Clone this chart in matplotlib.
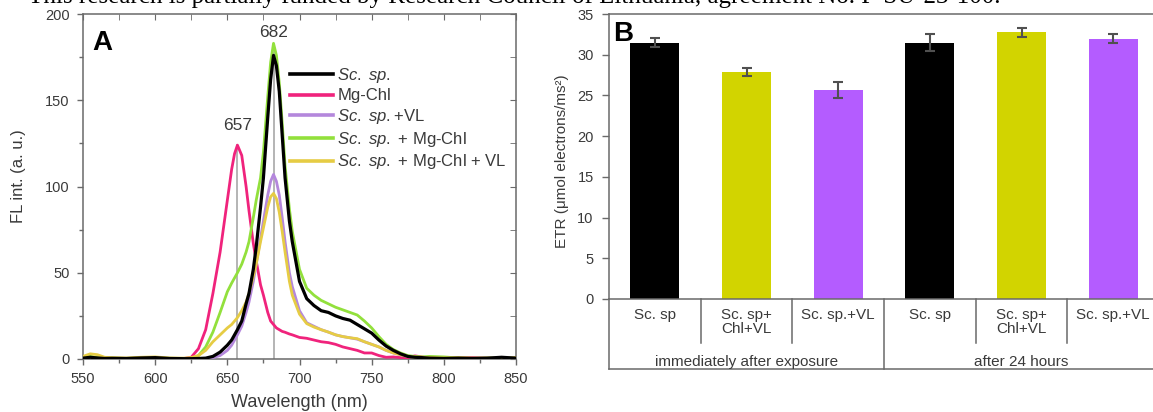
import matplotlib
matplotlib.use("Agg")
import matplotlib.pyplot as plt
from matplotlib.lines import Line2D

plt.rcParams['font.family'] = ['Liberation Sans', 'DejaVu Sans']
plt.rcParams['mathtext.fontset'] = 'custom'
plt.rcParams['mathtext.it'] = 'Liberation Sans:italic'
plt.rcParams['mathtext.rm'] = 'Liberation Sans'

# ---------------- Panel A data ----------------
wavelength = [550, 555, 560, 565, 570, 580, 590, 600, 610, 620,
              625, 630, 635, 640, 645, 650, 653, 655, 657, 660,
              663, 665, 668, 670, 673, 675, 678, 680, 682, 684,
              686, 688, 690, 693, 695, 700, 705, 710, 715, 720,
              725, 730, 735, 740, 745, 750, 755, 760, 765, 770,
              775, 780, 785, 790, 800, 810, 820, 830, 840, 850]

fl_sc = [0.5, 1.0, 0.6, 0.3, 0.4, 0.3, 0.6, 0.8, 0.3, 0.2,
         0.2, 0.3, 0.5, 1.5, 4, 8, 11, 14, 17, 22,
         32, 38, 52, 65, 88, 105, 140, 162, 176, 170,
         155, 130, 105, 80, 68, 45, 35, 31, 28, 27,
         25, 23.5, 22.5, 20, 17.5, 15, 11, 7.5, 5, 3,
         1.5, 1.0, 0.8, 0.5, 0.3, 0.5, 0.3, 0.5, 1.0, 0.5]

fl_mgchl = [0.3, 0.8, 0.5, 0.2, 0.3, 0.2, 0.4, 0.5, 0.2, 0.3,
            1, 6, 17, 38, 62, 92, 110, 119, 124, 118,
            100, 86, 67, 57, 43, 37, 27, 22, 20, 18,
            17, 16, 15.5, 14.5, 14, 12.5, 12, 11, 10, 9.5,
            8.5, 7, 6, 5, 3.5, 3.5, 2, 1, 1.2, 0.8,
            0.8, 1.8, 1.2, 0.5, 0.4, 0.6, 0.9, 0.4, 0.3, 0.4]

fl_sc_vl = [0.4, 0.6, 0.3, 0.2, 0.3, 0.2, 0.3, 0.4, 0.2, 0.2,
            0.2, 0.2, 0.3, 0.8, 2, 5, 8, 11, 14, 19,
            27, 33, 45, 55, 70, 80, 95, 103, 107, 103,
            95, 82, 68, 50, 42, 28, 21, 19, 17, 15.6,
            14, 13, 12.3, 11.5, 10, 8.5, 7, 5, 3.5, 2.5,
            1.5, 1.5, 0.8, 0.6, 0.5, 0.4, 0.5, 0.6, 0.3, 0.5]

fl_sc_mgchl = [0.5, 1.5, 0.8, 0.4, 0.5, 0.3, 0.6, 0.5, 0.4, 0.3,
               0.5, 2, 7, 15.6, 27, 39, 44, 47, 50, 55,
               62, 68, 82, 92, 105, 120, 152, 172, 183, 176,
               160, 137, 112, 87, 74, 52, 41, 37, 34, 32,
               30, 28.5, 27, 25.5, 22, 18, 13, 8.5, 5.5, 3.5,
               2, 1.5, 1.2, 1.5, 1.2, 0.6, 0.4, 0.5, 0.4, 0.5]

fl_sc_mgchl_vl = [1.5, 3, 2.5, 1, 0.8, 0.6, 1, 1.2, 0.6, 0.5,
                  0.8, 2, 5, 10, 14, 18, 20, 22, 24, 28,
                  33, 38, 48, 55, 68, 76, 88, 94, 96, 93,
                  85, 74, 62, 45, 37, 26, 20.5, 18.5, 17, 15.6,
                  14, 13, 12.3, 11.8, 10, 8.5, 7, 5, 3.5, 2.5,
                  1.5, 1.2, 1.0, 0.8, 0.6, 0.8, 0.5, 0.6, 0.4, 0.8]

peak_positions = [657, 682]
peak_heights = [124, 178]
peak_labels = ["657", "682"]

legend_labels = [r"$\mathit{Sc.\ sp.}$", "Mg-Chl", r"$\mathit{Sc.\ sp.}$+VL",
                 r"$\mathit{Sc.\ sp.}$ + Mg-Chl", r"$\mathit{Sc.\ sp.}$ + Mg-Chl + VL"]

# ---------------- Panel B data ----------------
bar_labels = ["Sc. sp", "Sc. sp+\nChl+VL", "Sc. sp.+VL", "Sc. sp", "Sc. sp+\nChl+VL", "Sc. sp.+VL"]
etr_values = [31.5, 27.9, 25.7, 31.5, 32.75, 31.95]
etr_errors = [0.6, 0.5, 1.0, 1.0, 0.55, 0.55]
group_labels = ["immediately after exposure", "after 24 hours"]

caption = "This research is partially funded by Research Council of Lithuania, agreement No. P-SU-23-100."

TXT = '#3a3a3a'
SP = '#6a6a6a'

W, H = 1153, 412
fig = plt.figure(figsize=(W / 100, H / 100), dpi=100)

def ax_rect(x0, y0, x1, y1):
    return [x0 / W, 1 - y1 / H, (x1 - x0) / W, (y1 - y0) / H]

# ---------------- Panel A ----------------
axA = fig.add_axes(ax_rect(83, 14, 516, 359))
series = [(fl_sc, '#000000', 2.3, 6),
          (fl_mgchl, '#f0237c', 2.0, 3),
          (fl_sc_vl, '#b487dc', 2.0, 4),
          (fl_sc_mgchl, '#92e03c', 2.0, 5),
          (fl_sc_mgchl_vl, '#e6cc44', 2.0, 5.5)]
handles = []
for (vals, col, lw, z), lab in zip(series, legend_labels):
    axA.plot(wavelength, vals, color=col, lw=lw, zorder=z)
    handles.append(Line2D([], [], color=col, lw=2.6, label=lab))

for xp, hp, lab in zip(peak_positions, peak_heights, peak_labels):
    axA.plot([xp, xp], [0, hp], color='#a8a8a8', lw=1.2, zorder=2)
    axA.text(xp, hp + 7, lab, ha='center', va='bottom', fontsize=12.5, color=TXT)

axA.set_xlim(550, 850)
axA.set_ylim(0, 200)
axA.set_xticks(range(550, 851, 50))
axA.set_yticks(range(0, 201, 50))
axA.set_xticks(range(575, 850, 50), minor=True)
axA.set_yticks(range(25, 200, 50), minor=True)
axA.tick_params(axis='both', which='major', direction='out', length=4.5, width=1,
                color=SP, labelsize=10.5, labelcolor=TXT, pad=5)
axA.tick_params(axis='both', which='minor', direction='out', length=3, width=1, color=SP)
for s in axA.spines.values():
    s.set_color(SP)
    s.set_linewidth(1.1)
# mirrored inward ticks on top / right
axT = axA.secondary_xaxis('top')
axT.set_xticks(range(550, 851, 50))
axT.set_xticks(range(575, 850, 50), minor=True)
axT.tick_params(which='both', direction='in', length=4, color=SP, labeltop=False)
axT.spines['top'].set_visible(False)
axR = axA.secondary_yaxis('right')
axR.set_yticks(range(0, 201, 50))
axR.set_yticks(range(25, 200, 50), minor=True)
axR.tick_params(which='both', direction='in', length=4, color=SP, labelright=False)
axR.spines['right'].set_visible(False)

axA.set_xlabel("Wavelength (nm)", fontsize=13, color=TXT)
axA.xaxis.set_label_coords(0.5, -0.125)
axA.xaxis.label.set_va('center')
axA.set_ylabel("FL int. (a. u.)", fontsize=12, color=TXT)
axA.yaxis.set_label_coords(-0.149, 0.53)
axA.yaxis.label.set_va('center')
axA.text(0.022, 0.955, "A", transform=axA.transAxes, fontsize=20, fontweight='bold',
         va='top', ha='left', color='#000000')

leg = axA.legend(handles=handles, loc='upper left', bbox_to_anchor=(0.478, 0.85),
                 frameon=False, fontsize=12, handlelength=2.6, handletextpad=0.25,
                 labelspacing=0.22, borderpad=0, borderaxespad=0)
for t in leg.get_texts():
    t.set_color(TXT)

# ---------------- Panel B ----------------
axB = fig.add_axes(ax_rect(609, 14, 1159, 299))
xpos = list(range(len(etr_values)))
bar_colors = ['#000000', '#d2d400', '#b45cff', '#000000', '#d2d400', '#b45cff']
axB.bar(xpos, etr_values, width=0.535, color=bar_colors, zorder=2)
axB.errorbar(xpos, etr_values, yerr=etr_errors, fmt='none', ecolor='#505050',
             elinewidth=1.5, capsize=3.5, capthick=1.5, zorder=3)
axB.set_xlim(-0.5, 5.5)
axB.set_ylim(0, 35)
axB.set_yticks(range(0, 36, 5))
axB.set_xticks([])
axB.tick_params(axis='y', direction='out', length=5, width=1, color=SP,
                labelsize=10.5, labelcolor=TXT, pad=6)
for s in axB.spines.values():
    s.set_color(SP)
    s.set_linewidth(1.1)
axB.spines['right'].set_visible(False)

trB = axB.get_xaxis_transform()
box_bottom = -70 / 285
sub_bottom = -44 / 285
axB.plot([-0.5, -0.5], [0, box_bottom], transform=trB, color=SP, lw=1.1, clip_on=False)
axB.plot([-0.5, 5.6], [box_bottom, box_bottom], transform=trB, color=SP, lw=1.1, clip_on=False)
for xd in [0.5, 1.5, 3.5, 4.5]:
    axB.plot([xd, xd], [0, sub_bottom], transform=trB, color=SP, lw=1.1, clip_on=False)
axB.plot([2.5, 2.5], [0, box_bottom], transform=trB, color=SP, lw=1.1, clip_on=False)
for xp, lab in zip(xpos, bar_labels):
    axB.text(xp, -0.031, lab, transform=trB, ha='center', va='top', fontsize=11,
             color=TXT, linespacing=1.0)
for gx, lab in zip([1, 4], group_labels):
    axB.text(gx, -0.221, lab, transform=trB, ha='center', va='center', fontsize=11,
             color=TXT)

axB.set_ylabel("ETR (μmol electrons/ms²)", fontsize=11, color=TXT)
axB.yaxis.set_label_coords(-0.0855, 0.484)
axB.yaxis.label.set_va('center')
axB.text(0.008, 0.975, "B", transform=axB.transAxes, fontsize=20, fontweight='bold',
         va='top', ha='left', color='#000000')

# partially visible caption line at the very top (cut off in the reference)
fig.text(28 / W, 1 - 2.5 / H, caption,
         fontsize=18, family='Liberation Serif', va='baseline', ha='left', color='#000000')

fig.savefig("out.png", dpi=100)
